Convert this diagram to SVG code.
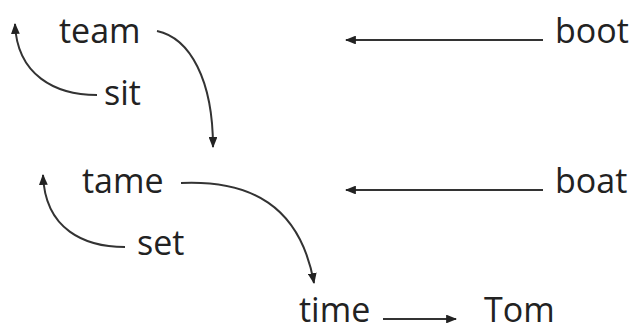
<svg xmlns="http://www.w3.org/2000/svg" width="636" height="333" viewBox="0 0 636 333">
  <style>
    .word { font-family: "Open Sans", "Liberation Sans", sans-serif; font-size: 34px; fill: #222; }
    .link { fill: none; stroke: #333; stroke-width: 2; marker-end: url(#head); }
  </style>
  <defs>
    <marker id="head" viewBox="0 0 10 8" refX="9" refY="4" markerWidth="5.5" markerHeight="4.4" orient="auto" markerUnits="strokeWidth">
      <path d="M0,0 L10,4 L0,8 Z" fill="#222"/>
    </marker>
  </defs>
  <rect width="636" height="333" fill="#fff"/>

  <g id="connectors">
    <path class="link" d="M157,31 C190,38 213,80 213,147"/>
    <path class="link" d="M97,95 C55,95 17,75 15,24"/>
    <path class="link" d="M181,183 C250,180 300,205 314,283"/>
    <path class="link" d="M125,247 C85,247 45,230 43,175"/>
    <path class="link" d="M543,40 L346,40"/>
    <path class="link" d="M543,190 L346,190"/>
    <path class="link" d="M383,319 L456,319"/>
  </g>

  <g id="team"><text class="word" x="59" y="43">team</text></g>
  <g id="sit"><text class="word" x="104" y="105">sit</text></g>
  <g id="tame"><text class="word" x="82" y="193">tame</text></g>
  <g id="set"><text class="word" x="137" y="255">set</text></g>
  <g id="time"><text class="word" x="299" y="322">time</text></g>
  <g id="Tom"><text class="word" x="484" y="322">Tom</text></g>
  <g id="boot"><text class="word" x="555" y="43">boot</text></g>
  <g id="boat"><text class="word" x="555" y="193">boat</text></g>
</svg>
